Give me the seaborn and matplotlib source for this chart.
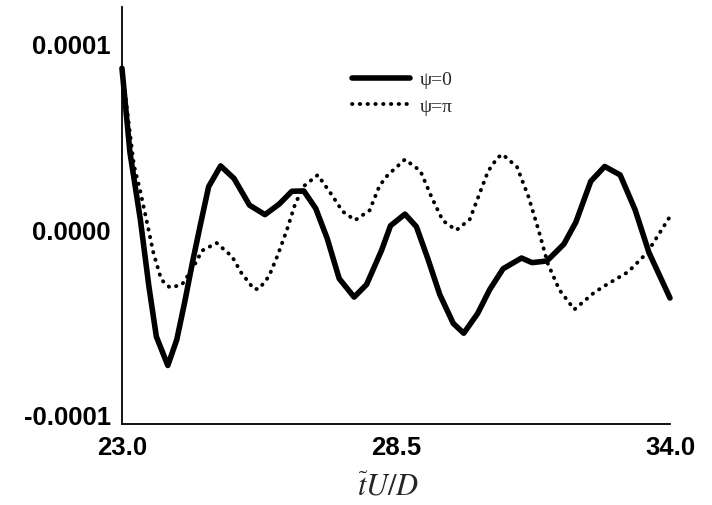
import matplotlib
matplotlib.use("Agg")
import matplotlib.pyplot as plt
import seaborn as sns

# --- dados (tempo adimensional e sinal) ---
t_psi0 = [23.0, 23.16, 23.37, 23.54, 23.69, 23.92, 24.10, 24.26, 24.42, 24.58,
          24.74, 24.98, 25.25, 25.56, 25.87, 26.16, 26.41, 26.65, 26.89, 27.12,
          27.36, 27.66, 27.91, 28.21, 28.39, 28.68, 28.91, 29.14, 29.38, 29.65,
          29.86, 30.14, 30.38, 30.65, 31.02, 31.23, 31.53, 31.87, 32.11, 32.41,
          32.69, 33.00, 33.30, 33.58, 34.0]
v_psi0 = [9.2e-5, 4.66e-5, 1.02e-5, -2.56e-5, -5.28e-5, -6.84e-5, -5.45e-5, -3.41e-5, -1.21e-5, 0.83e-5,
          2.81e-5, 3.93e-5, 3.25e-5, 1.81e-5, 1.30e-5, 1.88e-5, 2.56e-5, 2.58e-5, 1.63e-5, 0.01e-5,
          -2.15e-5, -3.15e-5, -2.47e-5, -0.63e-5, 0.70e-5, 1.33e-5, 0.65e-5, -1.08e-5, -3.02e-5, -4.57e-5,
          -5.10e-5, -4.03e-5, -2.75e-5, -1.62e-5, -1.04e-5, -1.29e-5, -1.20e-5, -0.29e-5, 0.89e-5, 3.10e-5,
          3.90e-5, 3.44e-5, 1.56e-5, -0.76e-5, -3.2e-5]

t_pi = [23.0, 23.24, 23.36, 23.49, 23.63, 23.79, 23.96, 24.20, 24.42, 24.61,
        24.90, 25.21, 25.39, 25.65, 25.75, 25.95, 26.13, 26.31, 26.48, 26.66,
        26.93, 27.21, 27.43, 27.68, 27.97, 28.17, 28.33, 28.68, 28.99, 29.22,
        29.44, 29.71, 29.98, 30.16, 30.35, 30.54, 30.64, 30.93, 31.16, 31.36,
        31.55, 31.78, 32.08, 32.48, 32.72, 33.16, 33.54, 34.0]
v_pi = [9.2e-5, 3.96e-5, 2.66e-5, 1.04e-5, -0.75e-5, -2.21e-5, -2.63e-5, -2.49e-5, -1.59e-5, -0.64e-5,
        -0.23e-5, -0.96e-5, -1.82e-5, -2.72e-5, -2.71e-5, -2.03e-5, -0.86e-5, 0.47e-5, 1.91e-5, 2.86e-5,
        3.44e-5, 2.37e-5, 1.47e-5, 1.00e-5, 1.53e-5, 2.86e-5, 3.42e-5, 4.28e-5, 3.66e-5, 2.21e-5,
        0.98e-5, 0.46e-5, 1.04e-5, 2.31e-5, 3.65e-5, 4.38e-5, 4.55e-5, 3.87e-5, 2.26e-5, 0.48e-5,
        -1.36e-5, -2.76e-5, -3.82e-5, -2.90e-5, -2.49e-5, -1.79e-5, -0.76e-5, 1.2e-5]

xticks = [23.0, 28.5, 34.0]
xtick_labels = ["23.0", "28.5", "34.0"]
yticks = [-0.0001, 0.0, 0.0001]
ytick_labels = ["-0.0001", "0.0000", "0.0001"]

# --- estilo ---
sns.set_style("white")
plt.rcParams["font.family"] = ["Liberation Sans", "DejaVu Sans"]
plt.rcParams["mathtext.fontset"] = "stix"

fig = plt.figure(figsize=(7.12, 5.06), dpi=100)
ax = fig.add_axes([0.1713, 0.16, 0.7697, 0.824])

sns.lineplot(x=t_psi0, y=v_psi0, ax=ax, color="black", linewidth=4.0,
             estimator=None, sort=False, label="ψ=0",
             solid_capstyle="round", solid_joinstyle="round", clip_on=False)
sns.lineplot(x=t_pi, y=v_pi, ax=ax, color="black", linewidth=2.8,
             estimator=None, sort=False, label="ψ=π",
             linestyle=(0, (0.1, 1.9)), dash_capstyle="round", clip_on=False)

ax.set_xlim(23.0, 34.0)
ax.set_ylim(-0.0001, 0.000125)
ax.set_xticks(xticks, xtick_labels)
ax.set_yticks(yticks, ytick_labels)

for lado in ["top", "right"]:
    ax.spines[lado].set_visible(False)
for lado in ["left", "bottom"]:
    ax.spines[lado].set_linewidth(1.3)
    ax.spines[lado].set_color("black")

ax.tick_params(direction="in", length=5, width=1.3, colors="black", labelsize=18.5)
ax.tick_params(axis="y", pad=8)
ax.tick_params(axis="x", pad=8)
for lbl in ax.get_xticklabels() + ax.get_yticklabels():
    lbl.set_fontweight("bold")
for lbl in ax.get_yticklabels():
    lbl.set_verticalalignment("baseline")

ax.set_xlabel(r"$\widetilde{t}U/D$", fontsize=22)
ax.xaxis.set_label_coords(0.485, -0.113)

ax.legend(frameon=False, loc="upper left", bbox_to_anchor=(0.494, 0.858),
          bbox_transform=fig.transFigure, borderpad=0, borderaxespad=0,
          handlelength=3.0, handletextpad=0.5, labelspacing=0.45,
          prop={"family": "Liberation Serif", "size": 14})

fig.savefig("out.png", dpi=100)
